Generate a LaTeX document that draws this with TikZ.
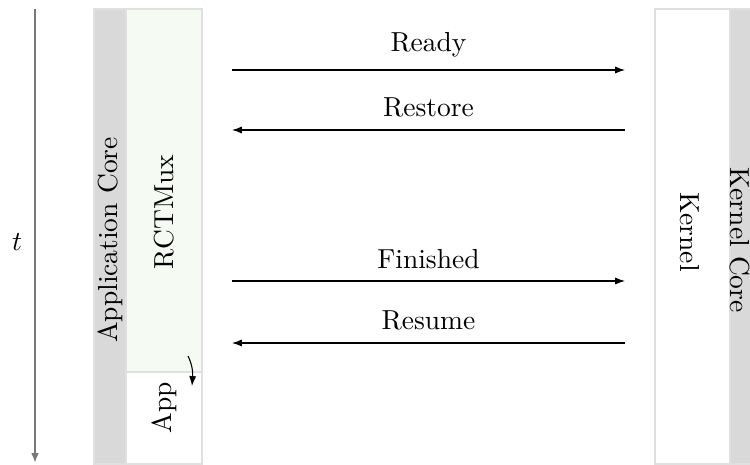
\documentclass[tikz,border=0pt]{standalone}
\usetikzlibrary{arrows.meta}
\definecolor{coregray}{RGB}{217,217,217}
\definecolor{edgegray}{RGB}{224,224,224}
\definecolor{muxgreen}{RGB}{245,251,243}
\definecolor{axisgray}{RGB}{120,120,120}
\tikzset{
  corebar/.style={fill=coregray, draw=edgegray, line width=0.4pt},
  lifebox/.style={fill=white, draw=edgegray, line width=0.4pt},
  muxbox/.style={fill=muxgreen, draw=edgegray, line width=0.4pt},
  msg/.style={-{Latex[length=3.6pt,width=2.6pt]}, line width=0.4pt},
  msglabel/.style={font=\normalsize, inner sep=3.33pt},
  vlabel/.style={font=\normalsize, inner sep=0pt}
}
\begin{document}
\begin{tikzpicture}[x=0.3636pt, y=-0.3636pt]
  \useasboundingbox (0,0) rectangle (750,464);
  \begin{scope}
    \clip (0,0) rectangle (750,464);

    % time axis
    \coordinate (tTop) at (35,9);
    \coordinate (tBot) at (35,463);
    \draw[axisgray, line width=0.7pt, -{Latex[length=3.6pt,width=2.8pt]}] (tTop) -- (tBot);
    \node[vlabel] (tlabel) at (17,242) {$t$};

    % application core column
    \draw[corebar] (94,9) rectangle (126,464);
    \draw[muxbox] (126,9) rectangle (202,372);
    \draw[lifebox] (126,372) rectangle (202,464);
    \node[vlabel, rotate=90] (appcore) at (110,240) {Application Core};
    \node[vlabel, rotate=90] (rctmux) at (164,212) {RCTMux};
    \node[vlabel, rotate=90] (app) at (164,408) {App};

    % kernel core column
    \draw[lifebox] (655,9) rectangle (730,464);
    \draw[corebar] (730,9) rectangle (770,464);
    \node[vlabel, rotate=-90] (kernel) at (690,232) {Kernel};
    \node[vlabel, rotate=-90] (kernelcore) at (740,240) {Kernel Core};

    % message endpoints
    \coordinate (readyA) at (232,70);   \coordinate (readyK) at (625,70);
    \coordinate (restA) at (232,130);   \coordinate (restK) at (625,130);
    \coordinate (finA) at (232,281);    \coordinate (finK) at (625,281);
    \coordinate (resA) at (232,343);    \coordinate (resK) at (625,343);

    \draw[msg] (readyA) -- node[msglabel, above=1pt] (readylbl) {Ready} (readyK);
    \draw[msg] (restK) -- node[msglabel, above=1pt] (restlbl) {Restore} (restA);
    \draw[msg] (finA) -- node[msglabel, above=1pt] (finlbl) {Finished} (finK);
    \draw[msg] (resK) -- node[msglabel, above=1pt] (reslbl) {Resume} (resA);

    % switch from RCTMux back to the application
    \coordinate (swS) at (188,356);
    \coordinate (swE) at (192,386);
    \draw[msg] (swS) .. controls (192,364) and (193,372) .. (swE);
  \end{scope}
\end{tikzpicture}
\end{document}
